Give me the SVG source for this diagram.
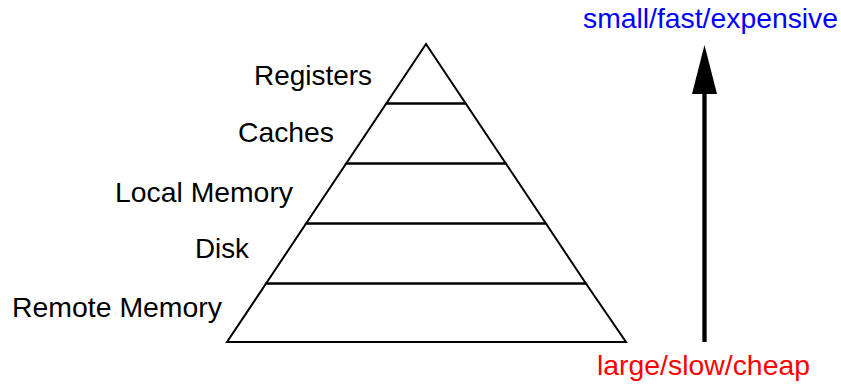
<svg xmlns="http://www.w3.org/2000/svg" width="841" height="385" viewBox="0 0 841 385">
<style>
.layer{fill:none;stroke:#000;stroke-width:2;stroke-linejoin:miter}
.lbl{font-family:"Liberation Sans",Arial,Helvetica,sans-serif;font-size:28px;fill:#000}
.blue{fill:#0000ff}
.red{fill:#ff0000}
</style>
<rect width="841" height="385" fill="#fff"/>
<g id="registers">
<polygon class="layer" points="426,44 465.7,103.5 386.3,103.5"/>
<text class="lbl" x="254" y="84.5" textLength="118" lengthAdjust="spacingAndGlyphs">Registers</text>
</g>
<g id="caches">
<polygon class="layer" points="386.3,103.5 465.7,103.5 505.8,163.5 346.2,163.5"/>
<text class="lbl" x="238" y="142" textLength="96" lengthAdjust="spacingAndGlyphs">Caches</text>
</g>
<g id="local-memory">
<polygon class="layer" points="346.2,163.5 505.8,163.5 545.9,223.5 306.1,223.5"/>
<text class="lbl" x="115" y="201.5" textLength="178" lengthAdjust="spacingAndGlyphs">Local Memory</text>
</g>
<g id="disk">
<polygon class="layer" points="306.1,223.5 545.9,223.5 585.9,283.5 266.1,283.5"/>
<text class="lbl" x="195" y="257.5" textLength="54" lengthAdjust="spacingAndGlyphs">Disk</text>
</g>
<g id="remote-memory">
<polygon class="layer" points="266.1,283.5 585.9,283.5 626,342 227,342"/>
<text class="lbl" x="12" y="316.5" textLength="210" lengthAdjust="spacingAndGlyphs">Remote Memory</text>
</g>
<g id="connectors">
<line x1="704.5" y1="342" x2="704.5" y2="92" stroke="#000" stroke-width="4.3"/>
<polygon points="704.5,45 717,94 692,94" fill="#000"/>
</g>
<g id="top-label">
<text class="lbl blue" x="583" y="28" textLength="255" lengthAdjust="spacingAndGlyphs">small/fast/expensive</text>
</g>
<g id="bottom-label">
<text class="lbl red" x="597" y="375" textLength="213" lengthAdjust="spacingAndGlyphs">large/slow/cheap</text>
</g>
</svg>
